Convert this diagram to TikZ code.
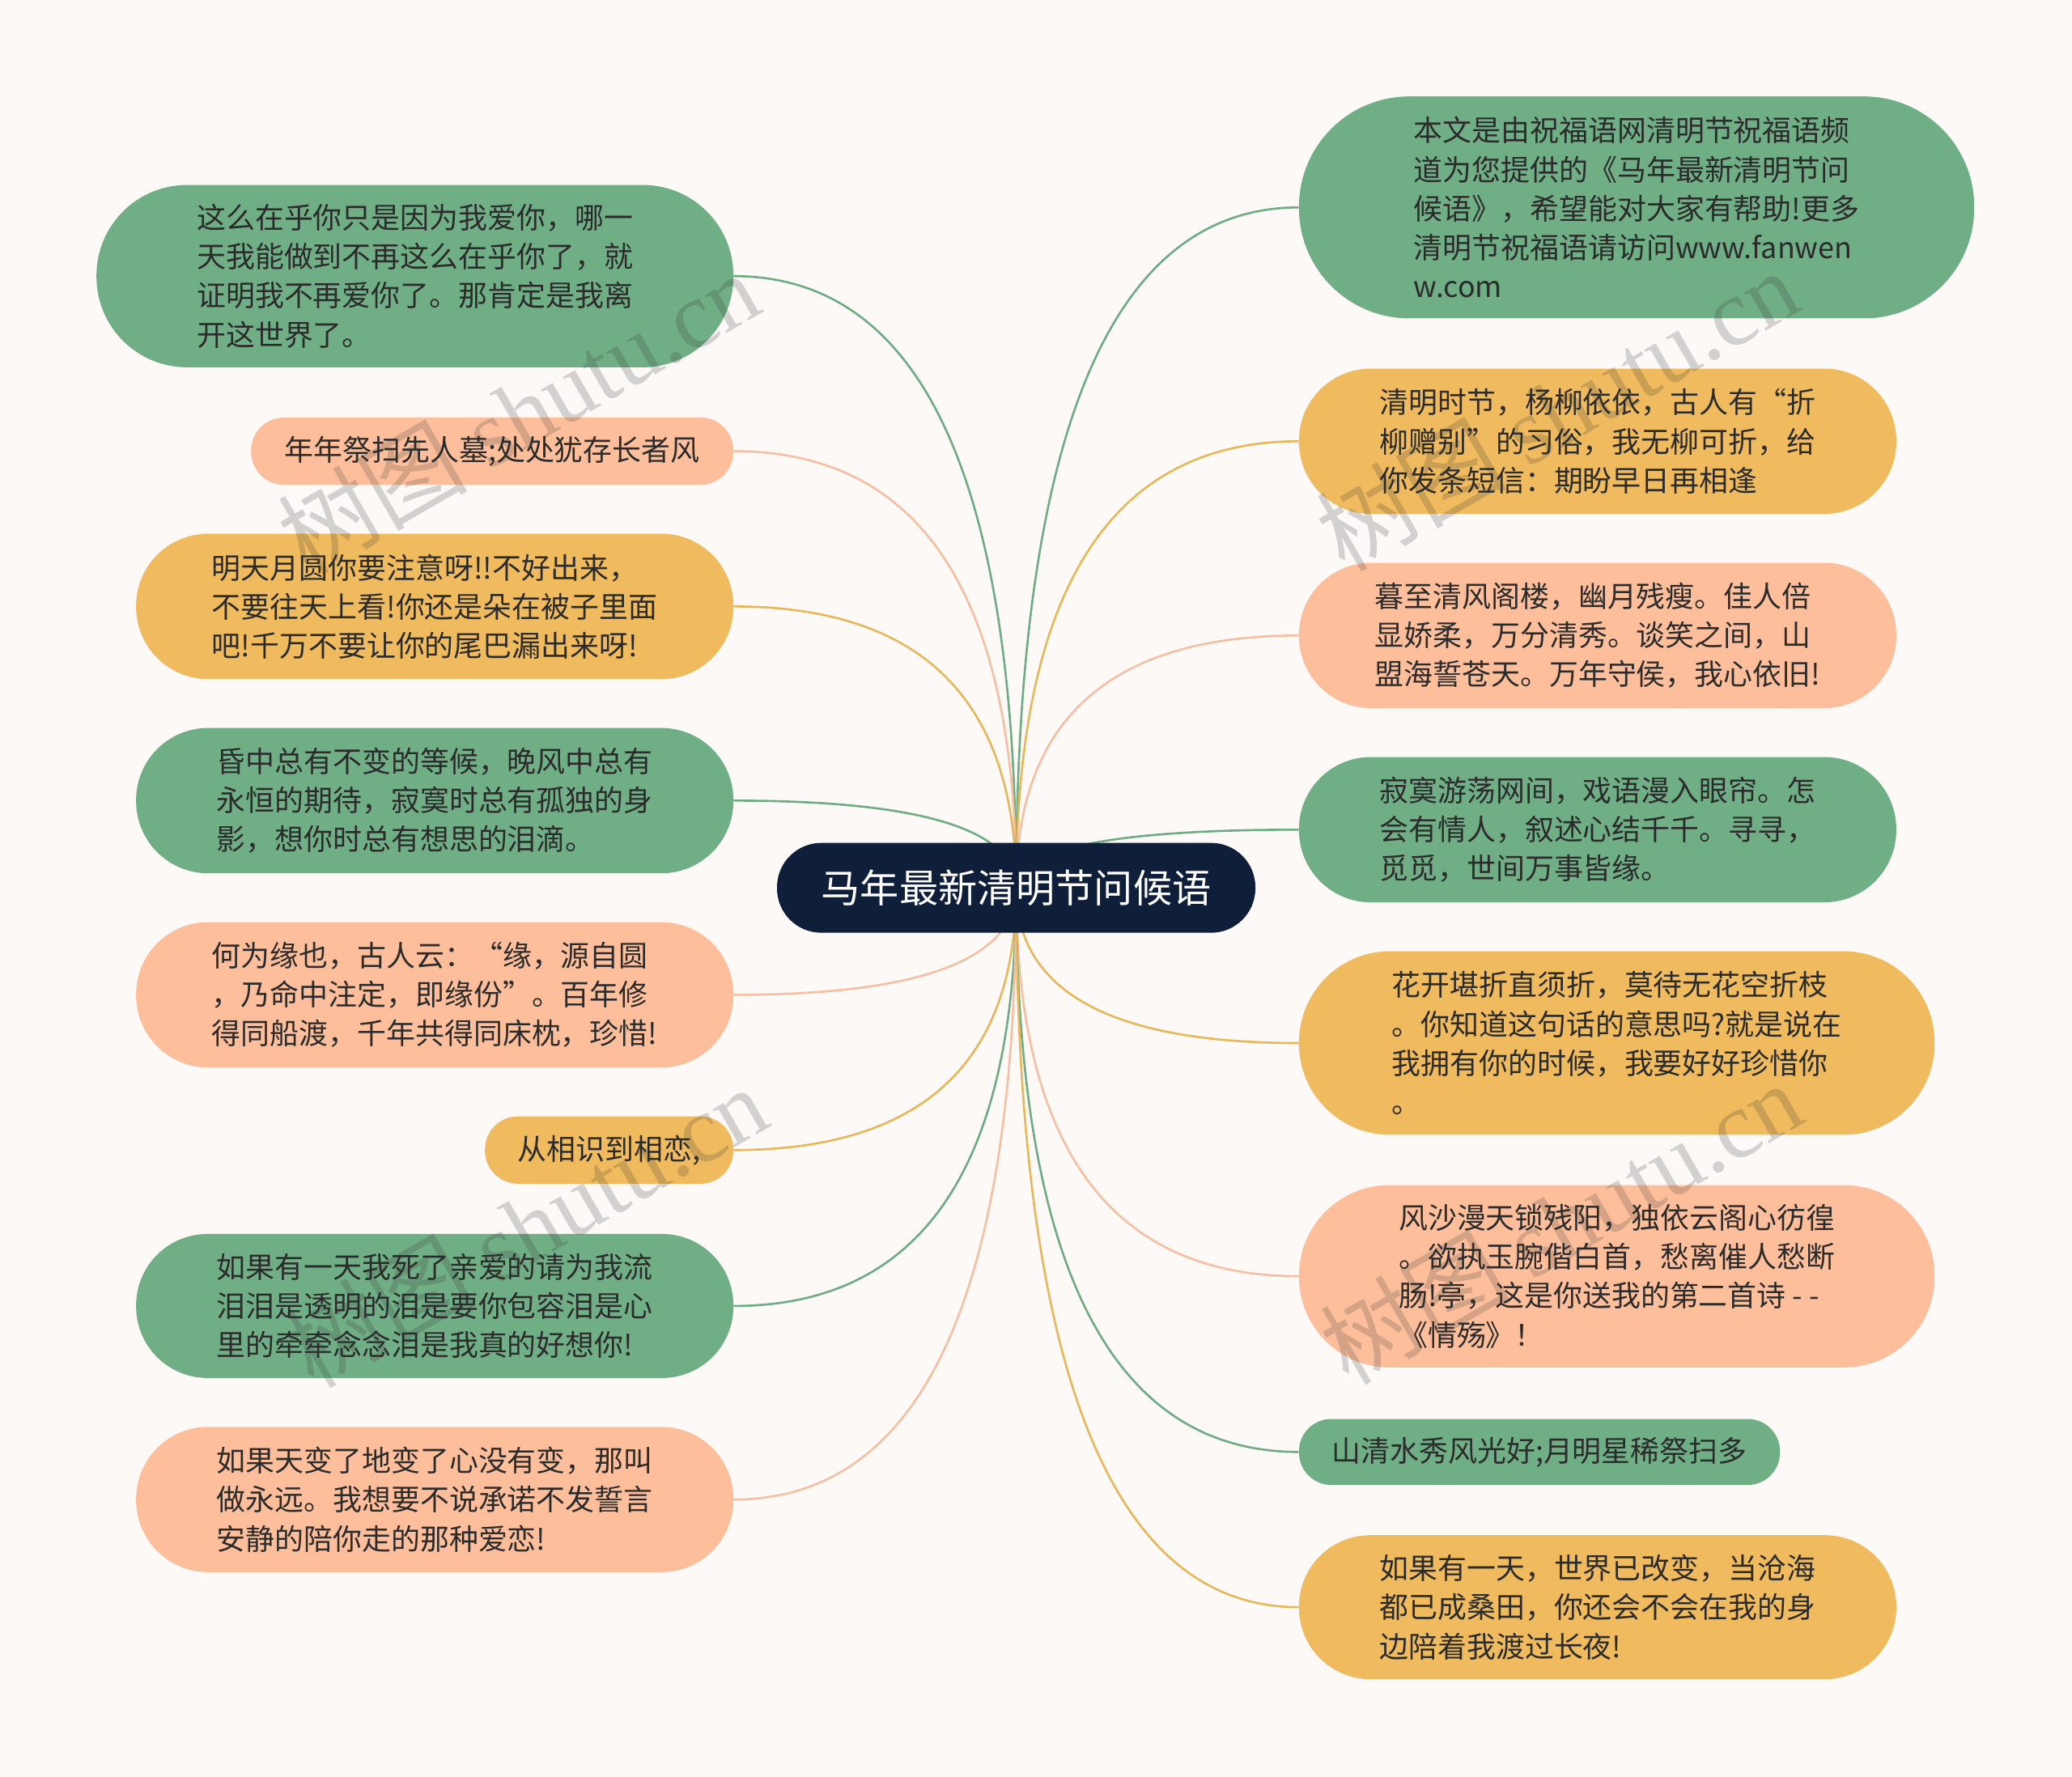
\documentclass[tikz,border=0pt]{standalone}
\usepackage{fontspec}
\setmainfont{Noto Sans CJK SC}
\newfontfamily\wmlatin{Liberation Serif}
\usetikzlibrary{backgrounds,calc}
\definecolor{bgc}{HTML}{FCF9F7}
\definecolor{gfill}{HTML}{70AE85}
\definecolor{sfill}{HTML}{FDBF9B}
\definecolor{yfill}{HTML}{EFBB5E}
\definecolor{navy}{HTML}{0F1F3A}
\definecolor{txt}{HTML}{2B2B2B}
\definecolor{gline}{HTML}{6FAB83}
\definecolor{sline}{HTML}{F6BFA1}
\definecolor{yline}{HTML}{E7B85A}
\tikzset{
  leaf/.style={draw=none, align=left, text=txt, inner sep=0pt,
    font=\fontsize{22}{29.5}\selectfont},
  gbox/.style={leaf, fill=gfill},
  sbox/.style={leaf, fill=sfill},
  ybox/.style={leaf, fill=yfill},
  link/.style={line width=1.6pt},
  glink/.style={link, draw=gline},
  slink/.style={link, draw=sline},
  ylink/.style={link, draw=yline},
  wm/.style={text=black!80, opacity=0.2, rotate=30, inner sep=0pt,
    font=\fontsize{72}{74}\selectfont},
}
\begin{document}
\begin{tikzpicture}[x=1pt,y=-1pt]
\useasboundingbox (0,0) rectangle (1568,1345);

% centre
\node[fill=navy, text=white, inner sep=0pt, minimum width=362, minimum height=68,
  rounded corners=33.5, font=\fontsize{29.5}{32}\selectfont] (C) at (769,672) {马年最新清明节问候语};

% left
\node[gbox, minimum width=482, minimum height=138, rounded corners=68.5] (L1) at (314,209)
 {这么在乎你只是因为我爱你，哪一\\天我能做到不再这么在乎你了，就\\证明我不再爱你了。那肯定是我离\\开这世界了。\hspace*{8pt}};
\node[sbox, minimum width=365, minimum height=51, rounded corners=25] (L2) at (372.5,341.5)
 {年年祭扫先人墓;处处犹存长者风};
\node[ybox, minimum width=452, minimum height=110, rounded corners=54.5] (L3) at (329,459)
 {明天月圆你要注意呀!!不好出来，\\不要往天上看!你还是朵在被子里面\\吧!千万不要让你的尾巴漏出来呀!};
\node[gbox, minimum width=452, minimum height=110, rounded corners=54.5] (L4) at (329,606)
 {昏中总有不变的等候，晚风中总有\\永恒的期待，寂寞时总有孤独的身\\影，想你时总有想思的泪滴。};
\node[sbox, minimum width=452, minimum height=110, rounded corners=54.5] (L5) at (329,753)
 {何为缘也，古人云：“缘，源自圆\\，乃命中注定，即缘份”。百年修\\得同船渡，千年共得同床枕，珍惜!};
\node[ybox, minimum width=188, minimum height=51, rounded corners=25] (L6) at (461,870.5)
 {从相识到相恋,};
\node[gbox, minimum width=452, minimum height=109, rounded corners=54] (L7) at (329,988.5)
 {如果有一天我死了亲爱的请为我流\\泪泪是透明的泪是要你包容泪是心\\里的牵牵念念泪是我真的好想你!};
\node[sbox, minimum width=452, minimum height=110, rounded corners=54.5] (L8) at (329,1135)
 {如果天变了地变了心没有变，那叫\\做永远。我想要不说承诺不发誓言\\安静的陪你走的那种爱恋!};

% right
\node[gbox, minimum width=511, minimum height=168, rounded corners=83.5] (R1) at (1238.5,157)
 {本文是由祝福语网清明节祝福语频\\道为您提供的《马年最新清明节问\\候语》，希望能对大家有帮助!更多\\清明节祝福语请访问www.fanwen\\w.com};
\node[ybox, minimum width=452, minimum height=110, rounded corners=54.5] (R2) at (1209,334)
 {清明时节，杨柳依依，古人有“折\\柳赠别”的习俗，我无柳可折，给\\你发条短信：期盼早日再相逢};
\node[sbox, minimum width=452, minimum height=110, rounded corners=54.5] (R3) at (1209,481)
 {暮至清风阁楼，幽月残瘦。佳人倍\\显娇柔，万分清秀。谈笑之间，山\\盟海誓苍天。万年守侯，我心依旧!};
\node[gbox, minimum width=452, minimum height=110, rounded corners=54.5] (R4) at (1209,628)
 {寂寞游荡网间，戏语漫入眼帘。怎\\会有情人，叙述心结千千。寻寻，\\觅觅，世间万事皆缘。};
\node[ybox, minimum width=481, minimum height=139, rounded corners=69] (R5) at (1223.5,789.5)
 {花开堪折直须折，莫待无花空折枝\\。你知道这句话的意思吗?就是说在\\我拥有你的时候，我要好好珍惜你\\。};
\node[sbox, minimum width=481, minimum height=138, rounded corners=68.5] (R6) at (1223.5,966)
 {风沙漫天锁残阳，独依云阁心彷徨\\。欲执玉腕偕白首，愁离催人愁断\\肠!亭，这是你送我的第二首诗 - -\\《情殇》！};
\node[gbox, minimum width=364, minimum height=50, rounded corners=24.5] (R7) at (1165,1099)
 {山清水秀风光好;月明星稀祭扫多};
\node[ybox, minimum width=452, minimum height=109, rounded corners=54] (R8) at (1209,1216.5)
 {如果有一天，世界已改变，当沧海\\都已成桑田，你还会不会在我的身\\边陪着我渡过长夜!};

% connectors behind nodes (quadratic curves, control point at (centre x, target y))
\begin{pgfonlayer}{background}
\fill[bgc] (0,0) rectangle (1568,1345);
\foreach \n/\s in {L1/glink,L2/slink,L3/ylink,L4/glink,L5/slink,L6/ylink,L7/glink,L8/slink}{
  \draw[\s] (C.center) .. controls ($(C.center)!0.6667!(C.center |- \n.east)$)
     and ($(\n.east)!0.6667!(C.center |- \n.east)$) .. (\n.east);
}
\foreach \n/\s in {R1/glink,R2/ylink,R3/slink,R4/glink,R5/ylink,R6/slink,R7/glink,R8/ylink}{
  \draw[\s] (C.center) .. controls ($(C.center)!0.6667!(C.center |- \n.west)$)
     and ($(\n.west)!0.6667!(C.center |- \n.west)$) .. (\n.west);
}
\end{pgfonlayer}

% watermarks
\node[wm] (W1) at (392,312) {树图 {\wmlatin shutu.cn}};
\node[wm] (W2) at (398,928) {树图 {\wmlatin shutu.cn}};
\node[wm] (W3) at (1178,310) {树图 {\wmlatin shutu.cn}};
\node[wm] (W4) at (1181,925) {树图 {\wmlatin shutu.cn}};
\end{tikzpicture}
\end{document}
